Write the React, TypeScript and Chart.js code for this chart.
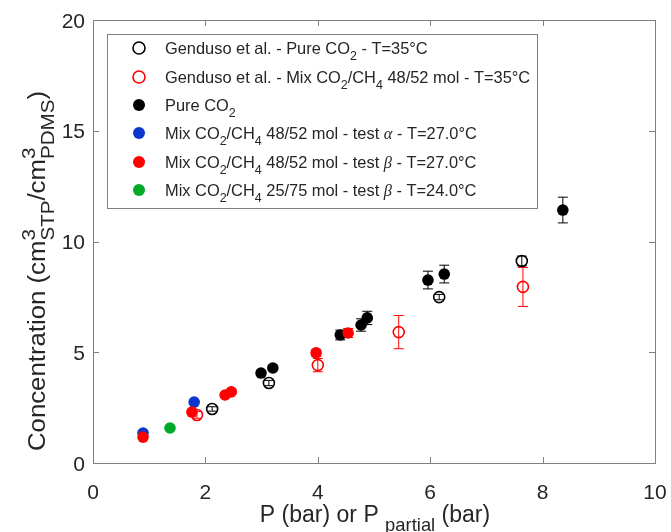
import React, { useEffect, useRef } from 'react';
import { Chart, registerables } from 'chart.js';
Chart.register(...registerables);

// ---------- data ----------
const gendusoPureX = [2.12, 3.13, 6.16, 7.63];
const gendusoPureY = [2.44, 3.61, 7.49, 9.12];
const gendusoPureErr = [0.1, 0.12, 0.12, 0.22];

const gendusoMixX = [1.85, 4.0, 5.44, 7.65];
const gendusoMixY = [2.17, 4.42, 5.91, 7.95];
const gendusoMixErr = [0.15, 0.3, 0.75, 0.88];

const pureX = [2.99, 3.2, 4.4, 4.77, 4.88, 5.96, 6.25, 8.36];
const pureY = [4.06, 4.29, 5.78, 6.23, 6.55, 8.26, 8.53, 11.42];
const pureErr = [0.12, 0.12, 0.22, 0.28, 0.3, 0.4, 0.4, 0.58];

const alphaX = [0.89, 1.8];
const alphaY = [1.35, 2.75];
const alphaErr = [0.05, 0.05];

const betaX = [0.89, 1.76, 2.35, 2.46, 3.97, 4.54];
const betaY = [1.17, 2.3, 3.07, 3.21, 4.97, 5.87];
const betaErr = [0.05, 0.08, 0.08, 0.08, 0.15, 0.2];

const green25X = [1.37];
const green25Y = [1.58];
const green25Err = [0.04];

const xTicks = [0, 2, 4, 6, 8, 10];
const yTicks = [0, 5, 10, 15, 20];

const legendLabels = [
  'Genduso et al. - Pure CO_{2} - T=35°C',
  'Genduso et al. - Mix CO_{2}/CH_{4} 48/52 mol - T=35°C',
  'Pure CO_{2}',
  'Mix CO_{2}/CH_{4} 48/52 mol - test \\it{α} - T=27.0°C',
  'Mix CO_{2}/CH_{4} 48/52 mol - test \\it{β} - T=27.0°C',
  'Mix CO_{2}/CH_{4} 25/75 mol - test \\it{β} - T=24.0°C',
];
const xTitle = 'P (bar) or P _{partial} (bar)';
const yTitle = 'Concentration (cm^{3}_{STP}/cm^{3}_{PDMS})';

const BLUE = 'rgb(10,55,205)';
const RED = 'rgb(255,0,0)';
const GREEN = 'rgb(0,170,40)';
const AXIS = '#808080';
const TEXT = '#262626';
const SANS = '"Liberation Sans", Arial, sans-serif';
const SERIF = '"Liberation Serif", "Times New Roman", serif';

// ---------- rich text ----------
type Seg = { t: string; k: 'n' | 'sub' | 'sup' | 'it' };
function parseRich(s: string): Seg[] {
  const segs: Seg[] = [];
  let buf = '';
  let i = 0;
  while (i < s.length) {
    if ((s[i] === '_' || s[i] === '^') && s[i + 1] === '{') {
      if (buf) { segs.push({ t: buf, k: 'n' }); buf = ''; }
      const end = s.indexOf('}', i);
      segs.push({ t: s.slice(i + 2, end), k: s[i] === '_' ? 'sub' : 'sup' });
      i = end + 1;
    } else if (s.startsWith('\\it{', i)) {
      if (buf) { segs.push({ t: buf, k: 'n' }); buf = ''; }
      const end = s.indexOf('}', i);
      segs.push({ t: s.slice(i + 4, end), k: 'it' });
      i = end + 1;
    } else {
      buf += s[i];
      i++;
    }
  }
  if (buf) segs.push({ t: buf, k: 'n' });
  return segs;
}

function richLayout(ctx: CanvasRenderingContext2D, s: string, size: number, draw: boolean, x0: number, y0: number, subScale = 0.76) {
  const segs = parseRich(s);
  let x = x0;
  const small = size * subScale;
  const subDy = size * 0.38;
  const supDy = -size * 0.45;
  for (let i = 0; i < segs.length; i++) {
    const g = segs[i];
    if (g.k === 'sup' && segs[i + 1] && segs[i + 1].k === 'sub') {
      const h = segs[i + 1];
      ctx.font = `${small}px ${SANS}`;
      const w1 = ctx.measureText(g.t).width;
      const w2 = ctx.measureText(h.t).width;
      if (draw) {
        ctx.fillText(g.t, x, y0 + supDy);
        ctx.fillText(h.t, x, y0 + subDy);
      }
      x += Math.max(w1, w2);
      i++;
      continue;
    }
    let dy = 0;
    if (g.k === 'sub') { ctx.font = `${small}px ${SANS}`; dy = subDy; }
    else if (g.k === 'sup') { ctx.font = `${small}px ${SANS}`; dy = supDy; }
    else if (g.k === 'it') { ctx.font = `italic ${size}px ${SERIF}`; }
    else { ctx.font = `${size}px ${SANS}`; }
    const w = ctx.measureText(g.t).width;
    if (draw) ctx.fillText(g.t, x, y0 + dy);
    x += w;
  }
  return x - x0;
}

// ---------- plugin ----------
const decorPlugin = {
  id: 'decor',
  beforeDatasetsDraw(chart: any) {
    const ctx: CanvasRenderingContext2D = chart.ctx;
    const xs = chart.scales.x;
    const ys = chart.scales.y;
    ctx.save();
    chart.data.datasets.forEach((ds: any) => {
      if (!ds.errors) return;
      ctx.strokeStyle = ds.errorColor;
      ctx.lineWidth = 1;
      ds.data.forEach((p: any, i: number) => {
        const e = ds.errors[i];
        const px = xs.getPixelForValue(p.x);
        const pt = ys.getPixelForValue(p.y + e);
        const pb = ys.getPixelForValue(p.y - e);
        ctx.beginPath();
        ctx.moveTo(px, pt); ctx.lineTo(px, pb);
        ctx.moveTo(px - 5, pt); ctx.lineTo(px + 5, pt);
        ctx.moveTo(px - 5, pb); ctx.lineTo(px + 5, pb);
        ctx.stroke();
      });
    });
    ctx.restore();
  },
  afterDraw(chart: any) {
    const ctx: CanvasRenderingContext2D = chart.ctx;
    const a = chart.chartArea;
    const xs = chart.scales.x;
    const ys = chart.scales.y;
    ctx.save();
    // box + ticks
    ctx.strokeStyle = AXIS;
    ctx.lineWidth = 1;
    ctx.strokeRect(Math.round(a.left) + 0.5, Math.round(a.top) + 0.5, Math.round(a.right - a.left), Math.round(a.bottom - a.top));
    ctx.beginPath();
    xTicks.forEach((t) => {
      const px = Math.round(xs.getPixelForValue(t)) + 0.5;
      ctx.moveTo(px, a.bottom); ctx.lineTo(px, a.bottom - 6);
      ctx.moveTo(px, a.top); ctx.lineTo(px, a.top + 6);
    });
    yTicks.forEach((t) => {
      const py = Math.round(ys.getPixelForValue(t)) + 0.5;
      ctx.moveTo(a.left, py); ctx.lineTo(a.left + 6, py);
      ctx.moveTo(a.right, py); ctx.lineTo(a.right - 6, py);
    });
    ctx.stroke();

    // tick labels
    ctx.fillStyle = TEXT;
    ctx.font = `21px ${SANS}`;
    ctx.textBaseline = 'alphabetic';
    ctx.textAlign = 'center';
    xTicks.forEach((t) => {
      ctx.fillText(String(t), xs.getPixelForValue(t), a.bottom + 36);
    });
    ctx.textAlign = 'right';
    yTicks.forEach((t) => {
      ctx.fillText(String(t), a.left - 8, ys.getPixelForValue(t) + 7.5);
    });

    // axis titles
    ctx.textAlign = 'left';
    const ts = 23;
    const wx = richLayout(ctx, xTitle, ts, false, 0, 0, 0.8);
    richLayout(ctx, xTitle, ts, true, (a.left + a.right) / 2 + 1 - wx / 2, 522, 0.8);
    const ys2 = 23;
    const wy = richLayout(ctx, yTitle, ys2, false, 0, 0, 0.8);
    ctx.save();
    ctx.translate(45, 271);
    ctx.rotate(-Math.PI / 2);
    ctx.scale(1.12, 1);
    richLayout(ctx, yTitle, ys2, true, -wy / 2, 0, 0.8);
    ctx.restore();

    // legend
    const lx = 107, ly = 34, lw = 430, lh = 174;
    ctx.fillStyle = '#ffffff';
    ctx.fillRect(lx, ly, lw, lh);
    ctx.strokeStyle = AXIS;
    ctx.strokeRect(lx + 0.5, ly + 0.5, lw, lh);
    const rowY = [48, 77, 105, 133, 162, 190];
    const ds = chart.data.datasets;
    rowY.forEach((cy, r) => {
      const d = ds[r];
      ctx.beginPath();
      ctx.arc(139, cy, 6, 0, Math.PI * 2);
      if (d.backgroundColor !== 'transparent') {
        ctx.fillStyle = d.backgroundColor;
        ctx.fill();
      } else {
        ctx.strokeStyle = d.borderColor;
        ctx.lineWidth = 1.6;
        ctx.stroke();
      }
      ctx.fillStyle = TEXT;
      richLayout(ctx, legendLabels[r], 16.4, true, 165, cy + 6, 0.76);
    });
    ctx.restore();
  },
};

function pts(xs: number[], ys: number[]) {
  return xs.map((x, i) => ({ x, y: ys[i] }));
}

export default function App() {
  const ref = useRef<HTMLCanvasElement>(null);
  useEffect(() => {
    document.body.style.margin = '0';
    const canvas = ref.current!;
    const chart = new Chart(canvas, {
      type: 'scatter',
      data: {
        datasets: [
          { label: legendLabels[0], data: pts(gendusoPureX, gendusoPureY), errors: gendusoPureErr, errorColor: '#000', backgroundColor: 'transparent', borderColor: '#000', borderWidth: 1.6, pointRadius: 5.5, order: 0 } as any,
          { label: legendLabels[1], data: pts(gendusoMixX, gendusoMixY), errors: gendusoMixErr, errorColor: RED, backgroundColor: 'transparent', borderColor: RED, borderWidth: 1.6, pointRadius: 5.5, order: 1 } as any,
          { label: legendLabels[2], data: pts(pureX, pureY), errors: pureErr, errorColor: '#000', backgroundColor: '#000', borderColor: '#000', borderWidth: 0, pointRadius: 5.8, order: 5 } as any,
          { label: legendLabels[3], data: pts(alphaX, alphaY), errors: alphaErr, errorColor: BLUE, backgroundColor: BLUE, borderColor: BLUE, borderWidth: 0, pointRadius: 5.8, order: 4 } as any,
          { label: legendLabels[4], data: pts(betaX, betaY), errors: betaErr, errorColor: RED, backgroundColor: RED, borderColor: RED, borderWidth: 0, pointRadius: 5.8, order: 3 } as any,
          { label: legendLabels[5], data: pts(green25X, green25Y), errors: green25Err, errorColor: GREEN, backgroundColor: GREEN, borderColor: GREEN, borderWidth: 0, pointRadius: 5.8, order: 2 } as any,
        ],
      },
      options: {
        responsive: false,
        animation: false,
        layout: { padding: { top: 20, right: 16, bottom: 0, left: 0 } },
        plugins: { legend: { display: false }, tooltip: { enabled: false } },
        scales: {
          x: {
            type: 'linear', min: 0, max: 10,
            afterFit: (s: any) => { s.height = 69; },
            afterBuildTicks: (s: any) => { s.ticks = xTicks.map((v) => ({ value: v })); },
            grid: { display: false, drawTicks: false },
            border: { display: false },
            ticks: { display: false },
          },
          y: {
            type: 'linear', min: 0, max: 20,
            afterFit: (s: any) => { s.width = 93; },
            afterBuildTicks: (s: any) => { s.ticks = yTicks.map((v) => ({ value: v })); },
            grid: { display: false, drawTicks: false },
            border: { display: false },
            ticks: { display: false },
          },
        },
      } as any,
      plugins: [decorPlugin],
    });
    return () => chart.destroy();
  }, []);
  return (
    <div style={{ width: 671, height: 532 }}>
      <canvas ref={ref} width={671} height={532} style={{ display: 'block' }} />
    </div>
  );
}
